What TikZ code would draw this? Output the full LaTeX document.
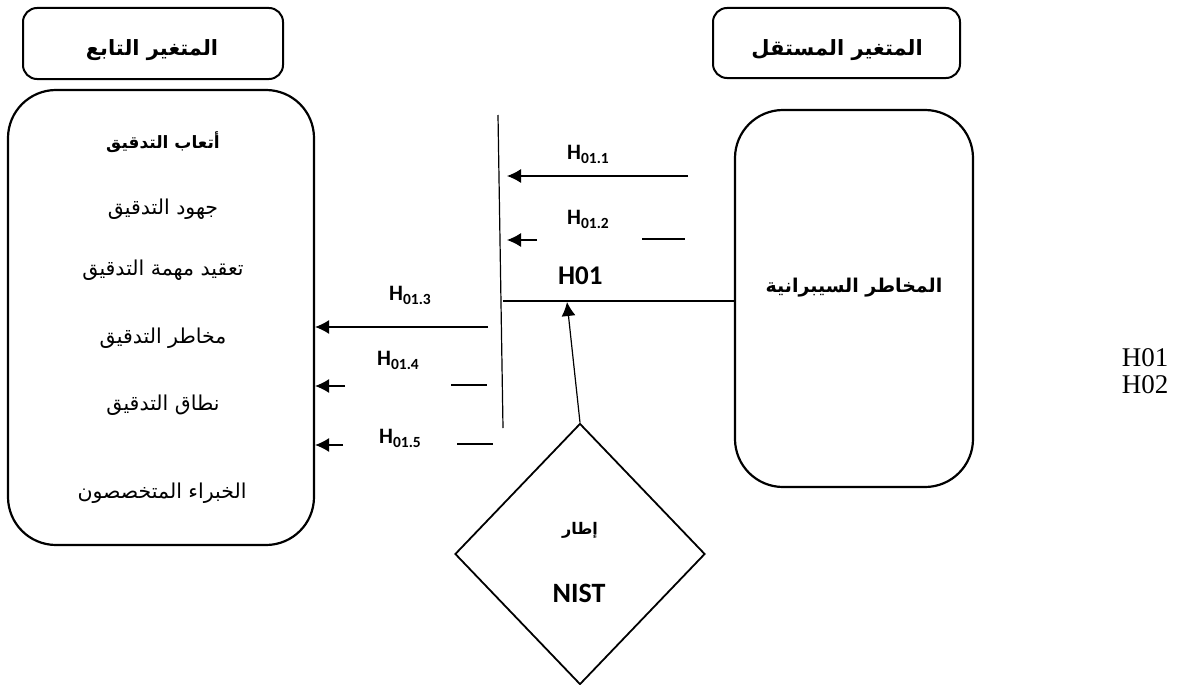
\documentclass[tikz,border=0pt]{standalone}
\usepackage{fontspec}
\setmainfont{Liberation Serif}
\newfontfamily\arabicfont[Script=Arabic]{DejaVu Sans}
\newfontfamily\hypfont{Carlito}
\TeXXeTstate=1
\usetikzlibrary{arrows.meta,shapes.geometric}
\newcommand{\hsub}[1]{H\raisebox{-0.4ex}{\fontsize{15.5}{16}\selectfont #1}}

\begin{document}
\begin{tikzpicture}[x=1pt,y=-1pt]
            \tikzset{
                varbox/.style={draw, line width=2pt, rounded corners=14pt, inner sep=0pt},
                bigbox/.style={draw, line width=2.2pt, rounded corners=48pt, inner sep=0pt},
                frame/.style={diamond, draw, line width=1.8pt, minimum width=250pt, minimum height=261pt, inner sep=0pt},
                item/.style={font=\arabicfont\fontsize{20.5}{22}\selectfont},
                itemb/.style={font=\arabicfont\bfseries\fontsize{#1}{22}\selectfont},
                hyp/.style={font=\hypfont\bfseries\fontsize{22}{24}\selectfont, inner sep=0pt, anchor=base west},
                edge/.style={-{Latex[length=14pt,width=14pt]}, line width=1.2pt},
                seg/.style={line width=1.2pt}
            }
            \useasboundingbox (0,0) rectangle (1183,685);
            % boxes
            \node[varbox, minimum width=260pt, minimum height=71pt] (dephead) at (153,43.5) {};
            \node[varbox, minimum width=247pt, minimum height=70pt] (indhead) at (836.5,43) {};
            \node[bigbox, minimum width=306pt, minimum height=455pt] (fees) at (161,317.5) {};
            \node[bigbox, minimum width=238pt, minimum height=377pt] (cyber) at (854,298.5) {};
            \node[frame] (nist) at (580,554) {};

            % texts
            \node[itemb=21] (deptxt) at (152,50) {\beginR المتغير التابع\endR};
            \node[itemb=21] (indtxt) at (837,50) {\beginR المتغير المستقل\endR};
            \node[itemb=17] (f0) at (163,142) {\beginR أتعاب التدقيق\endR};
            \node[item] (f1) at (163,209) {\beginR جهود التدقيق\endR};
            \node[item] (f2) at (163,270) {\beginR تعقيد مهمة التدقيق\endR};
            \node[item] (f3) at (163,338) {\beginR مخاطر التدقيق\endR};
            \node[item] (f4) at (163,405) {\beginR نطاق التدقيق\endR};
            \node[item] (f5) at (162,493) {\beginR الخبراء المتخصصون\endR};
            \node[itemb=19] (cybtxt) at (854,288) {\beginR المخاطر السيبرانية\endR};
            \node[itemb=16] (frtxt) at (580,530) {\beginR إطار\endR};
            \node[font=\hypfont\bfseries\fontsize{28}{30}\selectfont] (nisttxt) at (579,593) {NIST};
            \node[font=\fontsize{27}{30}\selectfont] (h1) at (1145,358) {H01};
            \node[font=\fontsize{27}{30}\selectfont] (h2) at (1145,385) {H02};

            % hypotheses
            \node[hyp] (l0) at (558,284) {\fontsize{27}{30}\selectfont H01};
            \node[hyp] (l1) at (567,159) {\hsub{01.1}};
            \node[hyp] (l2) at (567,224) {\hsub{01.2}};
            \node[hyp] (l3) at (389,300) {\hsub{01.3}};
            \node[hyp] (l4) at (377,365) {\hsub{01.4}};
            \node[hyp] (l5) at (379,443) {\hsub{01.5}};

            % bar and joins
            \coordinate (bartop) at (498,115);
            \coordinate (barbot) at (503,428);
            \coordinate (join) at (503,301);
            \coordinate (foot) at (567,302);
            \coordinate (a1) at (688,176);
            \coordinate (b1) at (507,176);
            \coordinate (a2) at (537,240);
            \coordinate (b2) at (507,240);
            \coordinate (c2) at (642,239);
            \coordinate (d2) at (685,239);
            \coordinate (a3) at (488,327);
            \coordinate (a4) at (345,386);
            \coordinate (c4) at (451,385);
            \coordinate (d4) at (487,385);
            \coordinate (a5) at (343,445);
            \coordinate (c5) at (457,444);
            \coordinate (d5) at (493,444);

            %edges
            \draw[seg] (bartop) -- (barbot);
            \draw[seg] (join) -- (join -| cyber.west);
            \draw[edge] (nist.north) -- (foot);
            \draw[edge] (a1) -- (b1);
            \draw[edge] (a2) -- (b2);
            \draw[seg] (c2) -- (d2);
            \draw[edge] (a3) -- (a3 -| fees.east);
            \draw[edge] (a4) -- (a4 -| fees.east);
            \draw[seg] (c4) -- (d4);
            \draw[edge] (a5) -- (a5 -| fees.east);
            \draw[seg] (c5) -- (d5);
            \end{tikzpicture}
\end{document}
